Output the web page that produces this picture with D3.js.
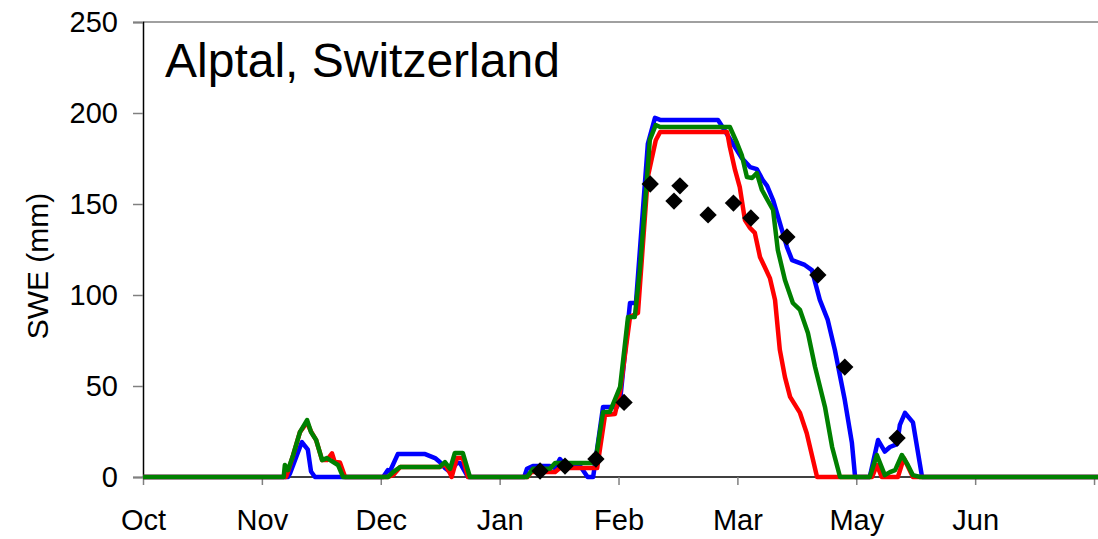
<!DOCTYPE html>
<html>
<head>
<meta charset="utf-8">
<script src="https://cdn.jsdelivr.net/npm/d3@7"></script>
<style>
  html, body { margin: 0; padding: 0; background: #fff; }
  svg { display: block; }
  text { font-family: "Liberation Sans", Arial, sans-serif; fill: #000; }
</style>
</head>
<body>
<svg id="chart" width="1098" height="539"></svg>
<script>
// Day 0 = 1 October
const monthTicks = [0, 30, 60, 90, 120, 150, 180, 210];
const monthLabels = ["Oct", "Nov", "Dec", "Jan", "Feb", "Mar", "May", "Jun"];
const yTicks = [0, 50, 100, 150, 200, 250];

// Model series: [day, SWE mm]
const blueSeries = [
  [0,0],[36.6,0],[37.1,2],[38.5,10],[40.1,19.2],[41.6,15],[42.4,3],[43.4,0],
  [60.6,0],[61.8,3.8],[62.3,3],[64.3,12.6],[71.2,12.6],[73.7,10.4],[74.9,8.2],[76.2,5],[77.5,2.7],
  [79.2,7.7],[80.0,7.7],[80.7,5],[82.0,0],
  [96.2,0],[96.9,4.5],[98.4,6.0],[102.7,6.0],[104.0,4.9],[105.2,9.9],[106.5,6.6],[110.3,6.0],[112.2,0],[113.6,0],
  [116.1,38.5],[119.6,38.5],[120.4,42],[122.9,95.6],[124.4,95.6],[127.4,183],[129.2,197.3],[130.5,196.2],
  [145.1,196.2],[145.6,194.5],[148.6,184.1],[151.1,175.3],[153.2,170.3],[154.9,169.2],[156.4,163.2],[157.5,160],
  [159.0,152.2],[162.5,126.4],[163.8,119.2],[167.0,116.5],[168.8,113.7],[170.8,97.3],[172.8,86.3],[174.6,69.8],
  [177.1,42.3],[178.9,18.7],[179.7,0],
  [183.4,0],[185.5,20.3],[187.2,14],[188.5,16.5],[190.3,18.1],[191.0,28.6],[192.3,35.2],[194.3,30],[196.6,0],
  [241,0]
];
const redSeries = [
  [0,0],[36.1,0],[36.6,3],[37.9,12.1],[39.6,24.7],[41.4,30],[42.4,25],[43.7,20.3],[45.2,9.3],[46.4,9.3],
  [47.7,13],[48.4,8.2],[49.7,8],[51.0,0],
  [61.8,0],[63.1,1],[64.9,5.5],[74.9,5.5],[76.2,7],[77.5,2],[77.9,0],[79.2,10.4],[80.7,10.4],[82.0,0],
  [97.0,0],[98.0,2.7],[104.0,2.7],[105.2,4.9],[114.6,4.9],
  [116.6,34.1],[119.1,34.6],[120.4,47],[122.9,88],[124.9,90.1],[127.4,165],[129.4,185],[130.5,189.6],
  [147.4,189.6],[148.1,181.3],[149.4,168.7],[150.6,159.3],[151.9,141.2],[153.2,136.8],[154.4,134.1],
  [155.7,120.9],[156.9,115.4],[158.2,109.3],[159.5,97.3],[160.7,70],[162.0,54.9],[163.3,44],[165.8,35.2],
  [167.5,24],[170.1,0],
  [184.0,0],[185.2,6.6],[186.4,0],[190.5,0],[192.0,10.4],[194.3,0],
  [241,0]
];
const greenSeries = [
  [0,0],[35.5,0],[35.8,6.6],[36.6,3.8],[37.9,12.1],[39.6,24.7],[41.4,31.3],[42.4,24.7],[43.7,20.3],
  [45.2,9.3],[46.4,10.4],[47.2,9.3],[48.4,7.7],[49.2,6.6],[50.5,0],
  [61.8,0],[63.1,2.7],[64.9,5.5],[74.9,5.5],[76.2,8.2],[77.5,4.5],[78.7,13.2],[80.7,13.2],[82.5,0],
  [96.9,0],[98.4,4.5],[102.7,4.5],[104.0,7.7],[114.1,7.7],
  [116.1,35.7],[117.8,35.7],[120.4,49.5],[122.4,87.9],[124.1,87.9],[125.4,114],[127.2,164.8],[127.9,185.2],
  [129.4,193.4],[130.5,192.3],[148.1,192.3],[149.9,183.5],[151.1,176.9],[152.4,164.8],[153.7,164.3],
  [154.9,167],[156.2,157.7],[159.0,146.7],[160.2,124.7],[162.0,108.2],[164.0,95.6],[165.8,91.8],
  [167.8,79.1],[169.6,60.4],[172.1,38.5],[173.9,16.5],[175.9,0],
  [183.4,0],[185.2,12.1],[187.2,1],[188.5,2.7],[189.8,3.8],[191.5,12.1],[193.0,6.6],[194.3,1],[196.1,0],
  [241,0]
];
// Observations
const obsDays   = [100.2, 106.5, 114.3, 121.4, 128.0, 134.0, 135.5, 142.6, 149.0, 153.4, 162.5, 170.3, 177.1, 190.3];
const obsValues = [3.3,   6.0,   9.9,   41.0,  161.0, 151.6, 160.0, 144.0, 150.5, 142.3, 131.9, 111.0, 60.4,  21.4];

const svg = d3.select("#chart");
const pLeft = 143, pRight = 1098, pTop = 22, pBottom = 477;

const x = d3.scaleLinear().domain([0, 241]).range([pLeft, pRight]);
const y = d3.scaleLinear().domain([0, 250]).range([pBottom, pTop]);

// top border
svg.append("line")
  .attr("x1", pLeft).attr("x2", pRight).attr("y1", pTop).attr("y2", pTop)
  .attr("stroke", "#808080").attr("stroke-width", 1.5);

// Y axis
const yAxis = svg.append("g").attr("transform", `translate(${pLeft},0)`)
  .call(d3.axisLeft(y).tickValues(yTicks).tickSize(10).tickPadding(15).tickFormat(d3.format("d")));
yAxis.select(".domain").attr("stroke", "#000").attr("stroke-width", 1.5);
yAxis.selectAll(".tick line").attr("stroke", "#808080").attr("stroke-width", 1.5);
yAxis.selectAll(".tick text").attr("font-size", 29).attr("font-family", "Liberation Sans, Arial, sans-serif").attr("fill", "#000");

// X axis
const xAxis = svg.append("g").attr("transform", `translate(0,${pBottom})`)
  .call(d3.axisBottom(x).tickValues(monthTicks.concat([240])).tickSize(8).tickPadding(24)
    .tickFormat((d, i) => monthLabels[i] || ""));
xAxis.select(".domain").attr("stroke", "#000").attr("stroke-width", 1.5).attr("d", `M${pLeft},0H${pRight}`);
xAxis.selectAll(".tick line").attr("stroke", "#808080").attr("stroke-width", 1.5);
xAxis.selectAll(".tick text").attr("font-size", 29).attr("font-family", "Liberation Sans, Arial, sans-serif").attr("fill", "#000");

// Y title
svg.append("text")
  .attr("transform", `translate(48,266) rotate(-90)`)
  .attr("text-anchor", "middle")
  .attr("font-size", 30)
  .text("SWE (mm)");

// Chart title
svg.append("text")
  .attr("x", 165).attr("y", 77)
  .attr("font-size", 48)
  .text("Alptal, Switzerland");

const line = d3.line().x(d => x(d[0])).y(d => y(d[1]));
const series = [
  { data: blueSeries, color: "#0000FF" },
  { data: redSeries, color: "#FF0000" },
  { data: greenSeries, color: "#008000" }
];
svg.append("g").selectAll("path").data(series).join("path")
  .attr("d", s => line(s.data))
  .attr("fill", "none")
  .attr("stroke", s => s.color)
  .attr("stroke-width", 4.5)
  .attr("stroke-linejoin", "round");

const sym = d3.symbol().type(d3.symbolSquare).size(150);
svg.append("g").selectAll("path").data(obsDays.map((d, i) => [d, obsValues[i]])).join("path")
  .attr("d", sym)
  .attr("transform", d => `translate(${x(d[0])},${y(d[1])}) rotate(45)`)
  .attr("fill", "#000");
</script>
</body>
</html>
